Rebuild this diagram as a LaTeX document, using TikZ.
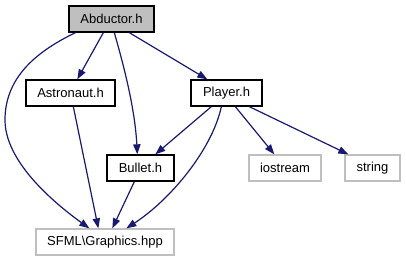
\documentclass[tikz,border=0pt]{standalone}
\usepackage{fontspec}
\setmainfont{Liberation Sans}
\usetikzlibrary{arrows.meta,calc}
\definecolor{edgeblue}{HTML}{191970}
\definecolor{boxgray}{HTML}{BFBFBF}
\begin{document}
\begin{tikzpicture}[x=0.75pt,y=-0.75pt,
  hdr/.style={draw=black,line width=1pt,inner sep=0pt,
    font=\fontsize{9.75}{11}\selectfont,minimum height=19.5pt},
  sys/.style={hdr,draw=boxgray},
  dep/.style={edgeblue,line width=0.9pt,
    -{Triangle[length=7.5pt,width=5.5pt]}}]
\useasboundingbox[fill=white] (0,0) rectangle (406,261);
% header files of the project
\node[hdr,fill=boxgray,minimum width=63.75pt] (abductor) at (111.5,19) {Abductor.h};
\node[hdr,fill=white,minimum width=66.75pt] (astronaut) at (70.5,93) {Astronaut.h};
\node[hdr,fill=white,minimum width=53.25pt] (player) at (226.5,93) {Player.h};
\node[hdr,fill=white,minimum width=50.25pt] (bullet) at (140.5,168) {Bullet.h};
% system / library headers
\node[sys,fill=white,minimum width=54pt] (iostream) at (285,168) {iostream};
\node[sys,fill=white,minimum width=41.25pt] (string) at (372.5,168) {string};
\node[sys,fill=white,minimum width=103.5pt] (sfml) at (105,242) {SFML\textbackslash Graphics.hpp};
% include dependencies
\draw[dep] ($(abductor.south west)+(7,0)$) .. controls (40,50) and (5,75) .. (5,120)
  .. controls (5,160) and (50,200) .. ($(sfml.north west)+(54,0)$);
\draw[dep] ($(abductor.south west)+(35,0)$) -- ($(astronaut.north west)+(52,0)$);
\draw[dep] ($(abductor.south west)+(46,0)$) .. controls (125,70) and (135,110) .. ($(bullet.north west)+(31,0)$);
\draw[dep] ($(abductor.south west)+(61,0)$) -- ($(player.north west)+(17,0)$);
\draw[dep] ($(astronaut.south west)+(48,0)$) -- ($(sfml.north west)+(63,0)$);
\draw[dep] ($(player.south west)+(21,0)$) -- ($(bullet.north west)+(49,0)$);
\draw[dep] ($(player.south west)+(31,0)$) .. controls (212,150) and (170,200) .. ($(sfml.north west)+(91,0)$);
\draw[dep] ($(player.south west)+(45,0)$) -- ($(iostream.north west)+(26,0)$);
\draw[dep] ($(player.south west)+(59,0)$) -- ($(string.north west)+(4,0)$);
\draw[dep] ($(bullet.south west)+(28,0)$) -- ($(sfml.north west)+(77,0)$);
\end{tikzpicture}
\end{document}
